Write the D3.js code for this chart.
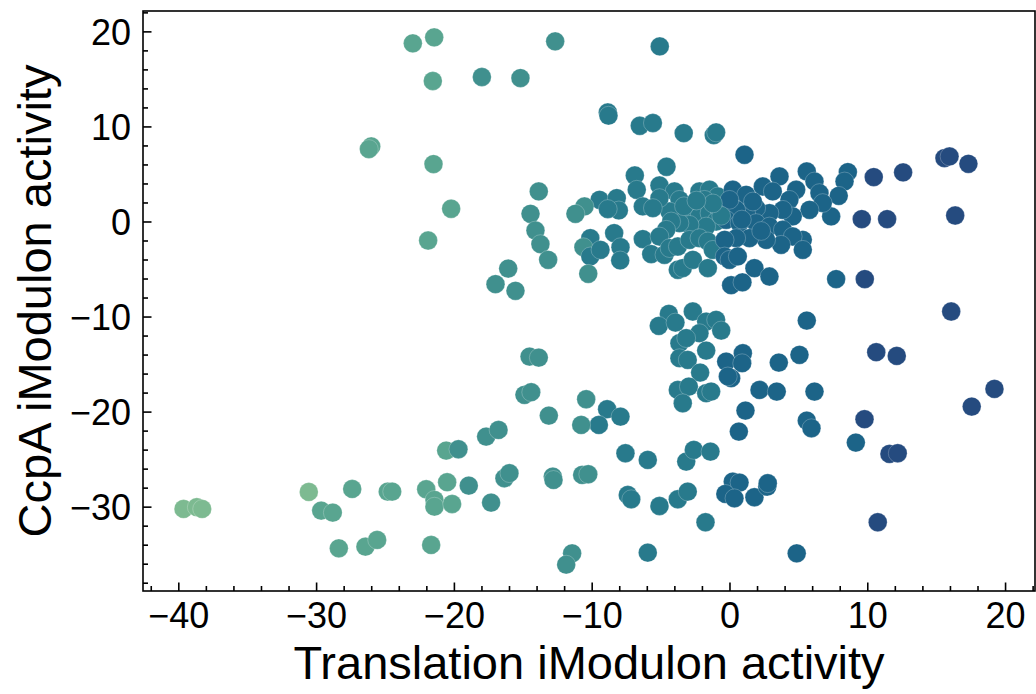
<!DOCTYPE html>
<html>
<head>
<meta charset="utf-8">
<script src="https://cdn.jsdelivr.net/npm/d3@7"></script>
<style>
  body { margin: 0; background: #fff; }
  svg text { font-family: "Liberation Sans", Arial, sans-serif; fill: #000; }
</style>
</head>
<body>
<svg id="chart"></svg>
<script>
// translation iModulon activity (x) for each sample
var xs = [-22.98,-21.43,-21.53,-26.00,-26.17,-21.48,-20.20,-21.87,-12.65,-5.06,
  -17.97,-15.17,-8.83,-8.78,-6.51,-5.56,-3.32,-1.14,-0.97,-4.57,
  -13.84,-6.87,-6.73,-5.08,-9.43,-8.18,-8.03,-10.52,-11.18,-14.44,
  -14.08,-13.72,-13.16,-16.06,-16.98,-15.53,-10.10,-10.60,-10.10,-9.36,
  -10.25,-8.37,-7.91,-7.93,-6.29,-6.29,-5.68,-4.72,-3.75,-3.39,
  -2.66,-1.57,5.61,-4.40,-5.13,-3.92,-2.66,-1.69,-0.97,-0.60,
  -3.63,-2.18,-3.14,-1.69,-3.63,-3.03,-2.13,-0.24,0.97,0.92,
  0.12,-0.12,3.58,5.08,-3.75,-2.95,-3.39,-1.69,-1.33,2.18,
  3.43,6.17,1.16,0.68,5.61,5.95,-10.40,-8.88,-7.91,-9.48,
  -10.76,-7.55,-5.93,-3.14,-2.59,-1.38,-10.69,-10.25,-7.38,-7.13,
  -5.08,-3.75,-3.03,-1.74,-5.93,4.88,-11.42,-11.85,0.24,0.73,
  -0.30,0.36,1.81,2.74,2.78,-14.51,-13.84,-14.88,-14.39,-13.11,
  -20.56,-19.67,-17.66,-16.76,-24.80,-24.48,-22.01,-21.41,-21.41,-20.13,
  -20.49,-18.92,-17.30,-16.33,-15.97,-12.82,-12.77,-21.65,-39.62,-38.66,
  -38.27,-30.53,-29.63,-28.79,-27.38,-28.35,-26.42,-25.57,15.60,15.97,
  17.34,10.47,12.60,9.60,11.44,16.38,7.74,9.82,16.09,10.65,
  12.14,19.23,17.58,9.80,9.17,11.61,12.21,10.76,5.61,6.17,
  8.59,8.35,7.93,7.38,4.84,5.32,3.63,1.09,-8.83,-3.99,
  -3.63,-4.35,-5.08,-5.56,-2.18,-1.45,-0.85,-1.81,-2.66,-2.90,
  -2.18,-1.45,-0.73,-0.97,-1.69,-2.90,-3.63,-4.23,-4.59,-5.08,
  -4.35,-3.75,-2.90,-2.18,-1.57,-1.21,0.24,1.21,2.42,3.14,
  4.35,6.53,6.77,5.81,4.59,3.87,2.90,1.94,1.21,0.49,
  0.00,-0.24,0.73,1.94,2.90,3.87,4.59,5.32,3.75,2.66,
  1.45,0.49,-0.35,-0.35,0.00,0.60,1.81,2.90,0.12,0.94,
  -0.60,-1.20,-3.30,-2.40,1.70,2.30,0.90];

// CcpA iModulon activity (y) for each sample
var ys = [18.74,19.37,14.78,7.90,7.62,6.04,1.34,-2.00,18.95,18.42,
  15.20,15.09,11.47,11.13,10.07,10.36,9.30,9.09,9.37,5.76,
  3.16,4.84,3.34,3.79,2.28,2.46,1.16,1.58,0.81,0.81,
  -0.95,-2.38,-4.03,-4.95,-6.59,-7.29,-1.75,-2.70,-3.68,-2.98,
  -5.50,-1.22,-2.70,-4.10,1.58,-1.85,-3.43,-3.50,-5.08,-4.90,
  -4.03,-4.90,-10.42,-9.72,-10.98,-10.63,-9.47,-10.53,-10.35,-11.47,
  -12.80,-11.75,-12.27,-13.58,-14.38,-14.56,-15.89,-14.74,-13.86,-14.91,
  -16.48,-16.30,-14.84,-14.03,-17.72,-17.37,-19.12,-18.06,-17.89,-17.72,
  -17.89,-17.89,-19.89,-22.10,-20.95,-21.75,-18.70,-19.75,-20.53,-21.40,
  -21.40,-24.38,-25.08,-25.26,-24.03,-24.21,-26.66,-26.59,-28.77,-29.22,
  -29.93,-29.22,-28.42,-31.64,-34.84,-34.91,-34.91,-36.10,-27.37,-27.47,
  -28.66,-29.12,-29.01,-27.89,-27.54,-14.21,-14.32,-18.24,-17.96,-20.42,
  -24.10,-23.96,-22.63,-21.93,-28.42,-28.42,-28.17,-29.29,-30.00,-29.72,
  -27.43,-27.79,-29.58,-27.01,-26.48,-26.84,-27.19,-34.03,-30.24,-30.06,
  -30.24,-28.45,-30.42,-30.63,-28.14,-34.38,-34.21,-33.50,6.67,6.84,
  6.07,4.67,5.16,0.25,0.25,0.63,-6.06,-6.06,-9.47,-13.75,
  -14.14,-17.61,-19.47,-20.80,-23.26,-24.45,-24.38,-31.64,5.26,4.21,
  5.20,4.21,2.70,0.53,3.34,-1.93,4.74,7.02,1.31,3.16,
  2.28,1.05,2.46,1.41,3.16,3.34,2.63,2.28,1.41,0.53,
  0.53,0.88,1.23,0.00,-0.53,-0.35,-0.17,0.00,-0.87,-1.58,
  -2.80,-2.63,-1.93,-1.75,-2.10,-2.98,3.34,2.81,3.68,3.16,
  2.28,2.99,1.94,1.23,0.53,1.23,0.88,1.41,0.88,1.23,
  2.28,0.18,-0.17,-0.17,-0.53,-0.87,-1.58,-2.98,-2.45,-1.93,
  -1.75,-1.75,-1.93,-3.68,-4.03,-3.68,-4.91,-5.79,-6.70,-6.40,
  0.60,1.90,1.60,2.20,2.10,-1.00,0.20];

var xTicks = [-40, -30, -20, -10, 0, 10, 20];
var yTicks = [-30, -20, -10, 0, 10, 20];
var crest6 = ["#7dba91", "#59a590", "#40908e", "#287a8c", "#1c6488", "#254b7f"];

var W = 1036, H = 694;
var margin = {top: 11, right: 1, bottom: 103, left: 143};
var width = W - margin.left - margin.right,
    height = H - margin.top - margin.bottom;

var svg = d3.select("#chart").attr("width", W).attr("height", H);
var g = svg.append("g").attr("transform", "translate(" + margin.left + "," + margin.top + ")");

// matplotlib style 5% padding around the data
function padded(v) {
  var e = d3.extent(v), p = (e[1] - e[0]) * 0.05;
  return [e[0] - p, e[1] + p];
}

var x = d3.scaleLinear().domain(padded(xs)).range([0, width]);
var y = d3.scaleLinear().domain(padded(ys)).range([height, 0]);

// hue = x activity cut into 6 equal-width bins
var color = d3.scaleQuantize().domain(d3.extent(xs)).range(crest6);

var pts = xs.map(function(v, i) { return {x: v, y: ys[i]}; });

g.append("g")
  .selectAll("circle")
  .data(pts)
  .enter().append("circle")
  .attr("cx", function(d) { return x(d.x); })
  .attr("cy", function(d) { return y(d.y); })
  .attr("r", 9.4)
  .style("fill", function(d) { return color(d.x); })
  .style("stroke", "#fff")
  .style("stroke-opacity", 0.6)
  .style("stroke-width", 0.4);

// minor ticks every 2
var xMinor = d3.range(-42, 23, 2).filter(function(v) { return v % 10 !== 0 && v >= x.domain()[0] && v <= x.domain()[1]; });
var yMinor = d3.range(-38, 23, 2).filter(function(v) { return v % 10 !== 0 && v >= y.domain()[0] && v <= y.domain()[1]; });

var xAxis = g.append("g").attr("transform", "translate(0," + height + ")")
  .call(d3.axisBottom(x).tickValues(xTicks).tickSizeInner(-8.5).tickSizeOuter(0).tickPadding(11).tickFormat(d3.format("d")));
var xAxisMinor = g.append("g").attr("transform", "translate(0," + height + ")")
  .call(d3.axisBottom(x).tickValues(xMinor).tickSizeInner(-5).tickSizeOuter(0).tickFormat(""));
var yAxis = g.append("g")
  .call(d3.axisLeft(y).tickValues(yTicks).tickSizeInner(-8.5).tickSizeOuter(0).tickPadding(12).tickFormat(d3.format("d")));
var yAxisMinor = g.append("g")
  .call(d3.axisLeft(y).tickValues(yMinor).tickSizeInner(-5).tickSizeOuter(0).tickFormat(""));

[xAxis, xAxisMinor, yAxis, yAxisMinor].forEach(function(a) {
  a.select(".domain").remove();
  a.selectAll("line").attr("stroke", "#000").attr("stroke-width", 1.6);
  a.selectAll("text").style("font-size", "36px").attr("fill", "#000");
});
xAxis.selectAll("text").attr("dy", "0.71em");
yAxis.selectAll("text").attr("dy", "0.36em");

// frame
g.append("rect")
  .attr("width", width).attr("height", height)
  .attr("fill", "none").attr("stroke", "#000").attr("stroke-width", 1.6);

svg.append("text")
  .attr("x", margin.left + width / 2)
  .attr("y", 679)
  .attr("text-anchor", "middle")
  .style("font-size", "47px")
  .text("Translation iModulon activity");

svg.append("text")
  .attr("transform", "translate(51," + (margin.top + height / 2) + ") rotate(-90)")
  .attr("text-anchor", "middle")
  .style("font-size", "47px")
  .text("CcpA iModulon activity");
</script>
</body>
</html>
